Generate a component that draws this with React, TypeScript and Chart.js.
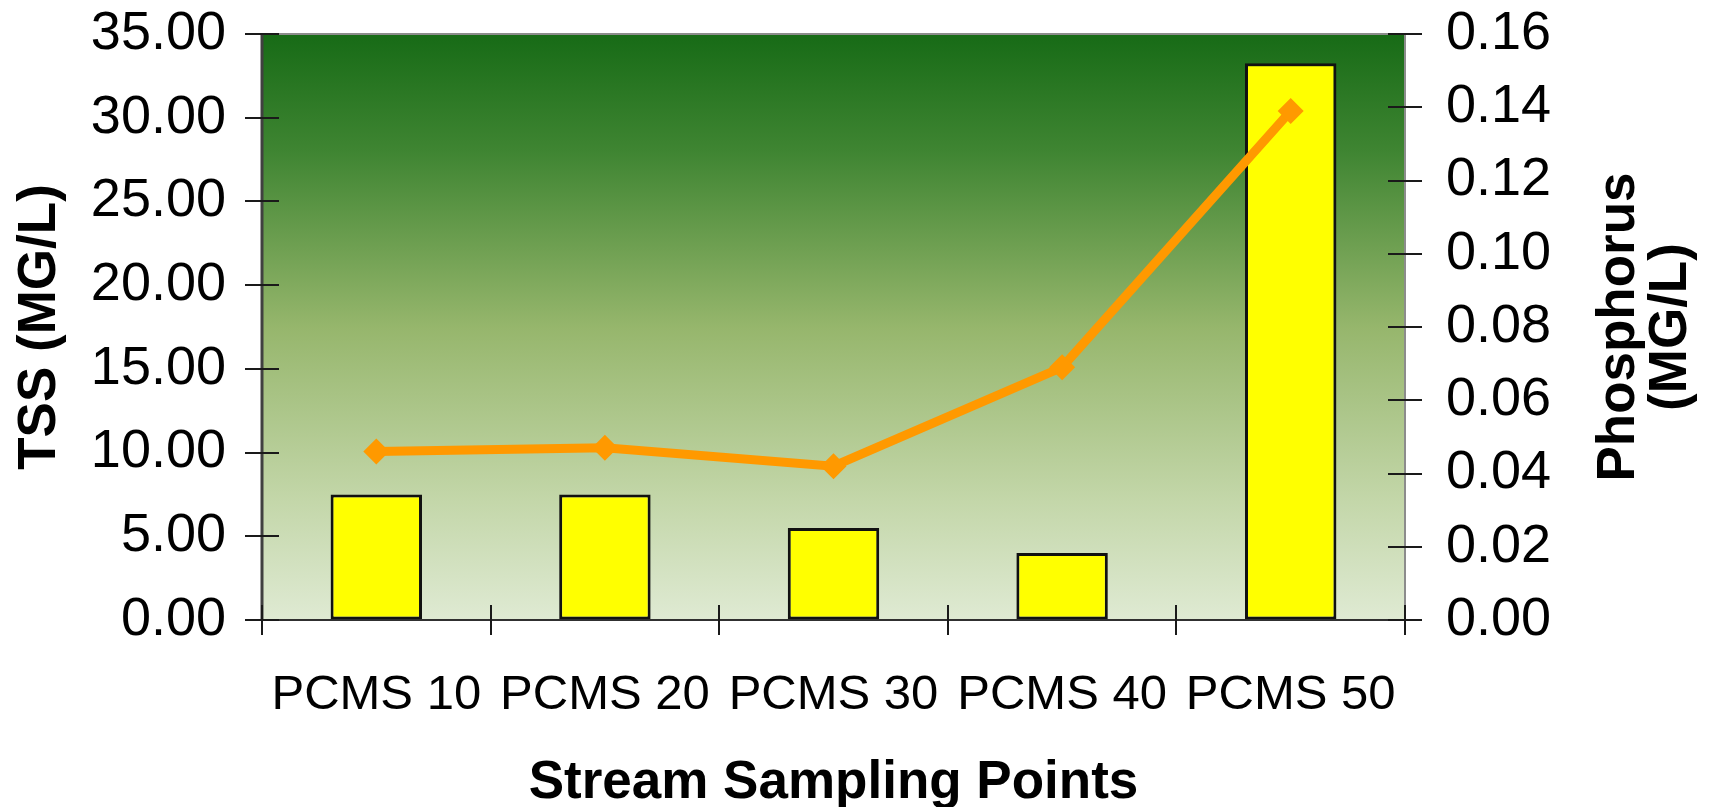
import React, { useEffect, useRef } from "react";
import { Chart, registerables } from "chart.js";

Chart.register(...registerables);

const categories = ["PCMS 10", "PCMS 20", "PCMS 30", "PCMS 40", "PCMS 50"];
const tssValues = [7.5, 7.5, 5.5, 4.0, 33.25];
const phosphorusValues = [0.046, 0.047, 0.042, 0.069, 0.139];
const leftTitle = "TSS (MG/L)";
const rightTitle = ["Phosphorus", "(MG/L)"];
const xTitle = "Stream Sampling Points";

const FONT = "'Liberation Sans', Arial, Helvetica, sans-serif";

const decorPlugin = {
  id: "decor",
  beforeDraw(chart: any) {
    const { ctx, chartArea: a } = chart;
    const g = ctx.createLinearGradient(0, a.top, 0, a.bottom);
    g.addColorStop(0, "#176b16");
    g.addColorStop(0.2, "#3f8532");
    g.addColorStop(0.5, "#96b66c");
    g.addColorStop(0.8, "#c4d7aa");
    g.addColorStop(1, "#dfead3");
    ctx.save();
    ctx.fillStyle = g;
    ctx.fillRect(a.left, a.top, a.right - a.left, a.bottom - a.top);
    ctx.restore();
  },
  afterDraw(chart: any) {
    const { ctx, chartArea: a, scales } = chart;
    ctx.save();
    // borders
    ctx.lineWidth = 2;
    ctx.strokeStyle = "#8c8c8c";
    ctx.beginPath();
    ctx.moveTo(a.left, a.top);
    ctx.lineTo(a.right, a.top);
    ctx.lineTo(a.right, a.bottom);
    ctx.stroke();
    ctx.strokeStyle = "#404040";
    ctx.lineWidth = 3;
    ctx.beginPath();
    ctx.moveTo(a.left, a.top);
    ctx.lineTo(a.left, a.bottom);
    ctx.stroke();
    ctx.strokeStyle = "#303030";
    ctx.lineWidth = 2;
    ctx.beginPath();
    ctx.moveTo(a.left, a.bottom);
    ctx.lineTo(a.right, a.bottom);
    ctx.stroke();
    // tick marks crossing axes
    ctx.strokeStyle = "#1a1a1a";
    ctx.lineWidth = 2;
    const L = 17;
    const y = scales.y;
    y.ticks.forEach((t: any) => {
      const py = Math.round(y.getPixelForValue(t.value));
      ctx.beginPath();
      ctx.moveTo(a.left - L, py);
      ctx.lineTo(a.left + L, py);
      ctx.stroke();
    });
    const y1 = scales.y1;
    y1.ticks.forEach((t: any) => {
      const py = Math.round(y1.getPixelForValue(t.value));
      ctx.beginPath();
      ctx.moveTo(a.right - L, py);
      ctx.lineTo(a.right + L, py);
      ctx.stroke();
    });
    const x = scales.x;
    const n = categories.length;
    for (let i = 0; i <= n; i++) {
      const px = Math.round(x.left + (i * (x.right - x.left)) / n);
      ctx.beginPath();
      ctx.moveTo(px, a.bottom - 15);
      ctx.lineTo(px, a.bottom + 15);
      ctx.stroke();
    }
    // right title, rotated reading bottom-to-top
    ctx.fillStyle = "#000";
    ctx.font = `bold 53px ${FONT}`;
    ctx.textAlign = "center";
    ctx.textBaseline = "middle";
    const cy = (a.top + a.bottom) / 2;
    const xs = [1619, 1671];
    rightTitle.forEach((line, i) => {
      ctx.save();
      ctx.translate(xs[i], cy);
      ctx.rotate(-Math.PI / 2);
      ctx.fillText(line, 0, 0);
      ctx.restore();
    });
    ctx.restore();
  },
};

export default function App() {
  const ref = useRef<HTMLCanvasElement | null>(null);
  useEffect(() => {
    if (!ref.current) return;
    Chart.defaults.color = "#000";
    const chart = new Chart(ref.current, {
      type: "bar",
      data: {
        labels: categories,
        datasets: [
          {
            type: "line",
            label: "Phosphorus",
            data: phosphorusValues,
            yAxisID: "y1",
            borderColor: "#FF9900",
            backgroundColor: "#FF9900",
            borderWidth: 9,
            pointStyle: "rectRot",
            pointRadius: 13,
            pointBackgroundColor: "#FF9900",
            pointBorderWidth: 0,
            tension: 0,
            order: 0,
          } as any,
          {
            type: "bar",
            label: "TSS",
            data: tssValues,
            yAxisID: "y",
            backgroundColor: "#FFFF00",
            borderColor: "#111111",
            borderWidth: 3,
            borderSkipped: false,
            categoryPercentage: 1,
            barPercentage: 0.4,
            order: 1,
          } as any,
        ],
      },
      options: {
        animation: false,
        responsive: true,
        maintainAspectRatio: false,
        layout: { padding: { top: 34, left: 0, right: 0, bottom: 0 } },
        plugins: {
          legend: { display: false },
          tooltip: { enabled: false },
          title: { display: false },
        },
        scales: {
          x: {
            grid: { display: false, offset: true },
            border: { display: false },
            ticks: { font: { size: 49, family: FONT }, padding: 38, color: "#000" },
            title: {
              display: true,
              text: xTitle,
              font: { size: 53, weight: "bold", family: FONT },
              padding: { top: 0, bottom: -8 },
              color: "#000",
            },
            afterFit: (s: any) => {
              s.height = 187;
            },
          },
          y: {
            position: "left",
            min: 0,
            max: 35,
            grid: {
              display: true,
              drawOnChartArea: false,
              drawTicks: true,
              tickLength: 36,
              color: "rgba(0,0,0,0)",
            },
            border: { display: false },
            ticks: {
              stepSize: 5,
              font: { size: 54, family: FONT },
              padding: 0,
              color: "#000",
              callback: (v: any) => Number(v).toFixed(2),
            },
            title: {
              display: true,
              text: leftTitle,
              font: { size: 53, weight: "bold", family: FONT },
              padding: { top: 9, bottom: 0 },
              color: "#000",
            },
            afterFit: (s: any) => {
              s.width = 262;
            },
          },
          y1: {
            position: "right",
            min: 0,
            max: 0.16,
            grid: {
              display: true,
              drawOnChartArea: false,
              drawTicks: true,
              tickLength: 41,
              color: "rgba(0,0,0,0)",
            },
            border: { display: false },
            ticks: {
              stepSize: 0.02,
              font: { size: 54, family: FONT },
              padding: 0,
              color: "#000",
              callback: (v: any) => Number(v).toFixed(2),
            },
            afterFit: (s: any) => {
              s.width = 306;
            },
          },
        },
      } as any,
      plugins: [decorPlugin],
    });
    return () => chart.destroy();
  }, []);
  return (
    <div style={{ position: "fixed", left: 0, top: 0, width: 1711, height: 807, background: "#fff" }}>
      <canvas ref={ref} />
    </div>
  );
}
